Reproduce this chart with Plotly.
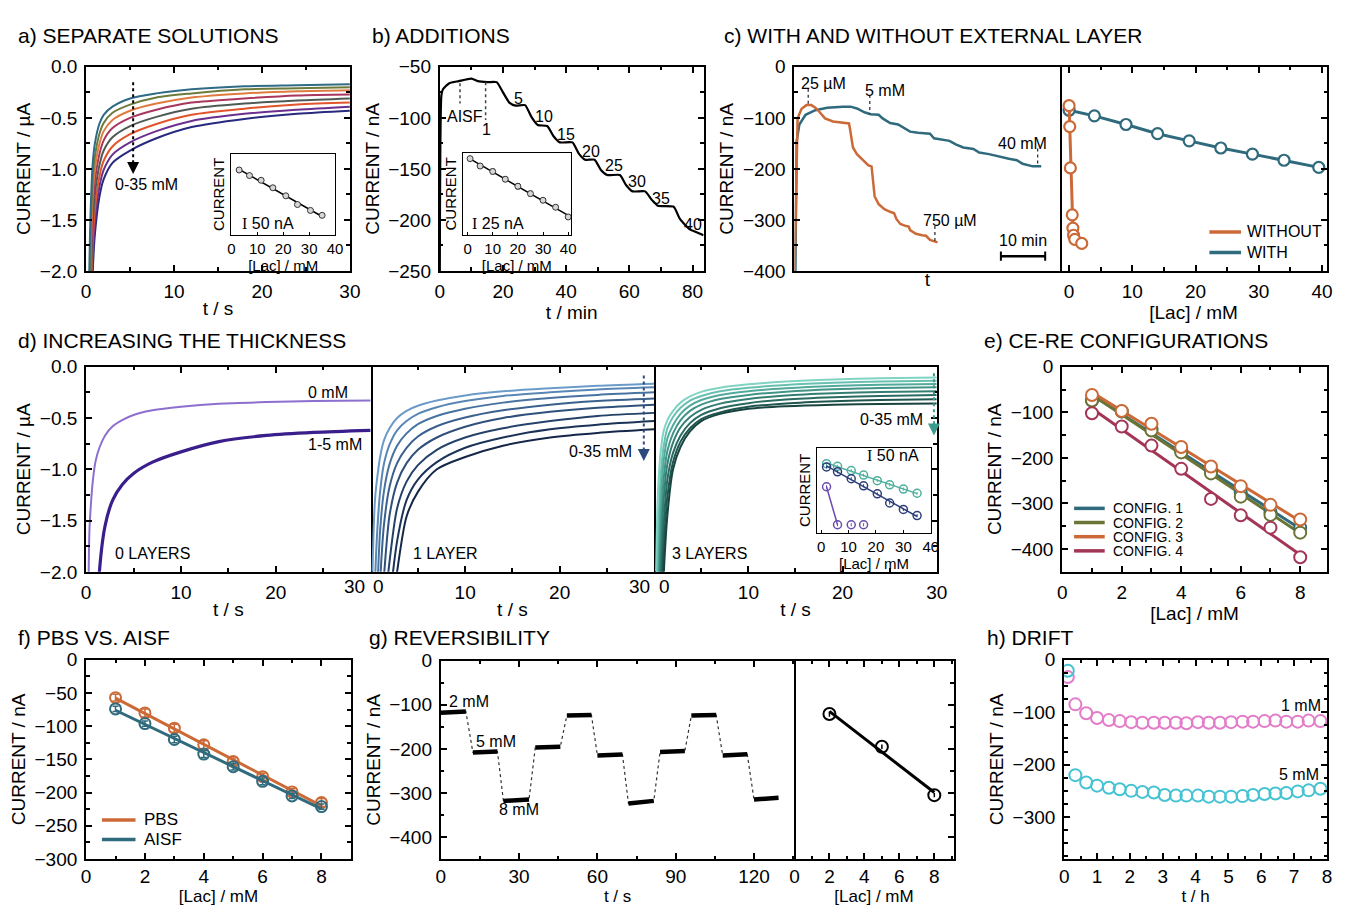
import numpy as np
import plotly.graph_objects as go

# ======================= DATA =======================
# a) separate solutions (current in uA vs t in s), 0..35 mM
A_T = [0.3, 0.5, 0.75, 1, 1.5, 2, 3, 5, 8, 12, 18, 24, 30]
A_I_00 = [-2.3, -1.45, -0.95, -0.75, -0.56, -0.47, -0.39, -0.31, -0.26, -0.22, -0.19, -0.18, -0.17]
A_I_05 = [-2.6, -1.7, -1.1, -0.88, -0.66, -0.55, -0.45, -0.37, -0.30, -0.26, -0.22, -0.21, -0.20]
A_I_10 = [-2.9, -1.9, -1.25, -1.0, -0.76, -0.63, -0.52, -0.43, -0.36, -0.30, -0.26, -0.24, -0.23]
A_I_15 = [-3.2, -2.1, -1.4, -1.12, -0.86, -0.72, -0.60, -0.50, -0.42, -0.35, -0.31, -0.28, -0.27]
A_I_20 = [-3.5, -2.3, -1.55, -1.25, -0.97, -0.82, -0.69, -0.58, -0.49, -0.41, -0.36, -0.33, -0.31]
A_I_25 = [-3.8, -2.5, -1.72, -1.4, -1.08, -0.92, -0.78, -0.66, -0.56, -0.47, -0.41, -0.37, -0.35]
A_I_30 = [-4.1, -2.7, -1.88, -1.52, -1.18, -1.01, -0.86, -0.74, -0.63, -0.53, -0.46, -0.42, -0.39]
A_I_35 = [-4.4, -2.9, -2.02, -1.64, -1.28, -1.10, -0.94, -0.82, -0.70, -0.59, -0.51, -0.46, -0.43]
A_COLORS = ["#2f6b86", "#6c7b3b", "#e07b40", "#a8365e", "#4f5a55", "#e2542b", "#6b2f8e", "#272a7e"]
A_IN_LAC = [3, 7, 11.5, 16, 21, 25.5, 30.5, 35]
A_IN_I = [-175, -207, -234, -277, -323, -373, -407, -435]

# b) additions (nA vs min)
B_T = [0, 0.5, 1, 3, 6, 10, 12, 15, 18, 20, 22, 24, 27, 29, 31, 34, 36, 38, 42, 44,
       46, 49, 51, 53, 57, 59, 61, 65, 67, 69, 74, 76, 79, 82, 83.5]
B_I = [-255, -78, -72, -66, -64, -61.5, -64, -65, -65, -75, -85, -88, -87.5, -99, -107, -108, -118, -124, -124, -135,
       -141, -141, -151, -156, -156, -166, -172, -172, -180, -186, -187, -199, -209, -213, -215]
B_STEP_LABELS = ["5", "10", "15", "20", "25", "30", "35", "40"]
B_STEP_T = [25, 33, 40, 48, 55, 62.5, 70, 80]
B_STEP_I = [-81, -99, -116, -133, -147, -162, -179, -204]
B_IN_LAC = [1, 5, 10, 15, 20, 25, 30, 35, 40]
B_IN_I = [-65, -84, -98, -118, -136, -155, -172, -190, -215]
B_IN_ERR = [3, 4, 6, 6, 7, 6, 4, 4, 5]

# c) with / without external layer
C_NAMES = ["WITHOUT", "WITH"]
C_T_WO = [0.04, 0.7, 1.6, 2.7, 3.8, 4.7, 5.6, 6.9, 8.7, 10.9, 12.3, 12.5, 13.2, 14.1, 15.4, 16.7, 17.4, 17.7, 18.1, 19.0,
          20.3, 21.6, 22.5, 23.0, 23.9, 25.2, 25.8, 26.1, 27.4, 28.8, 29.7, 30.6, 31.9, 32.3]
C_I_WO = [-400, -101, -82, -75, -75, -80, -88, -101, -107, -110, -111, -120, -158, -171, -183, -193, -195, -222, -254, -269,
          -279, -284, -287, -298, -308, -312, -313, -320, -327, -330, -331, -339, -344, -344]
C_T_WITH = [0.2, 0.5, 1.1, 2.5, 4.7, 7.4, 10.9, 12.7, 14.1, 15.8, 17.2, 19.0, 19.9, 21.6, 23.4, 24.8, 26.1, 27.9, 30.6, 31.5,
            33.7, 35.0, 36.4, 38.1, 40.4, 41.7, 43.9, 45.3, 46.6, 48.4, 50.2, 51.5, 53.8, 55.7]
C_I_WITH = [-400, -145, -113, -94, -85, -80, -78, -78, -81.5, -89, -93, -94, -101, -110, -113, -120, -127, -129, -131, -140,
            -144, -145, -152, -158, -161, -168, -171, -174, -177, -180, -183, -190, -195, -195]
C_LAC_WO = [0.0, 0.1, 0.2, 0.5, 0.6, 0.7, 0.9, 2.0]
C_RESP_WO = [-76, -117, -198, -290, -316, -330, -338, -346]
C_LAC_WITH = [0, 4, 9, 14, 19, 24, 29, 34, 39.5]
C_RESP_WITH = [-85, -96, -113, -131, -145, -159, -171, -183, -197]

# d) increasing the thickness (uA vs s)
D_T = [0.2, 0.35, 0.5, 0.7, 1, 1.4, 2, 2.8, 3.8, 5, 7, 10, 14, 19, 24, 30]
D0_I_0MM = [-2.6, -1.6, -1.35, -1.12, -0.92, -0.79, -0.67, -0.58, -0.52, -0.47, -0.425, -0.39, -0.36, -0.345, -0.335, -0.33]
D0_I_1TO5MM = [-6, -5, -4.5, -3.8, -2.9, -2.0, -1.55, -1.3, -1.15, -1.04, -0.93, -0.83, -0.73, -0.67, -0.64, -0.62]
D1_I_00 = [-2.0, -1.5, -1.25, -1.08, -0.88, -0.72, -0.6, -0.5, -0.43, -0.38, -0.33, -0.28, -0.24, -0.21, -0.185, -0.165]
D1_I_05 = [-3.2, -2.5, -2.0, -1.6, -1.22, -0.95, -0.76, -0.62, -0.53, -0.46, -0.395, -0.335, -0.285, -0.25, -0.222, -0.20]
D1_I_10 = [-4, -3.2, -2.6, -2.2, -1.6, -1.22, -0.95, -0.77, -0.65, -0.56, -0.48, -0.41, -0.35, -0.305, -0.275, -0.25]
D1_I_15 = [-5, -4, -3.3, -2.7, -2.1, -1.55, -1.17, -0.94, -0.79, -0.68, -0.58, -0.495, -0.425, -0.37, -0.335, -0.31]
D1_I_20 = [-5.5, -4.6, -3.9, -3.2, -2.5, -2.05, -1.45, -1.13, -0.94, -0.81, -0.69, -0.585, -0.5, -0.44, -0.4, -0.37]
D1_I_25 = [-6, -5, -4.3, -3.6, -3.0, -2.45, -1.9, -1.38, -1.12, -0.96, -0.81, -0.69, -0.6, -0.53, -0.48, -0.45]
D1_I_30 = [-6.5, -5.5, -4.7, -4.0, -3.4, -2.8, -2.3, -1.7, -1.3, -1.1, -0.93, -0.79, -0.69, -0.61, -0.565, -0.53]
D1_I_35 = [-7, -6, -5.1, -4.4, -3.8, -3.2, -2.6, -2.0, -1.46, -1.22, -1.0, -0.88, -0.77, -0.69, -0.645, -0.61]
D3_I_00 = [-2.0, -1.35, -1.05, -0.82, -0.63, -0.52, -0.43, -0.35, -0.29, -0.245, -0.205, -0.172, -0.145, -0.125, -0.113, -0.105]
D3_I_05 = [-2.6, -2.0, -1.45, -1.05, -0.78, -0.6, -0.49, -0.40, -0.33, -0.285, -0.24, -0.205, -0.178, -0.157, -0.145, -0.137]
D3_I_10 = [-3.1, -2.4, -1.85, -1.3, -0.92, -0.7, -0.57, -0.46, -0.38, -0.325, -0.275, -0.238, -0.21, -0.188, -0.176, -0.168]
D3_I_15 = [-3.5, -2.8, -2.2, -1.6, -1.1, -0.82, -0.65, -0.52, -0.43, -0.37, -0.315, -0.275, -0.243, -0.22, -0.208, -0.2]
D3_I_20 = [-4, -3.2, -2.5, -1.9, -1.3, -0.95, -0.74, -0.59, -0.49, -0.42, -0.36, -0.315, -0.28, -0.259, -0.247, -0.238]
D3_I_25 = [-4.5, -3.6, -2.9, -2.2, -1.55, -1.1, -0.84, -0.67, -0.55, -0.47, -0.405, -0.355, -0.32, -0.298, -0.285, -0.276]
D3_I_30 = [-5, -4, -3.2, -2.5, -1.8, -1.27, -0.93, -0.73, -0.6, -0.51, -0.445, -0.39, -0.358, -0.337, -0.325, -0.317]
D3_I_35 = [-5.5, -4.5, -3.6, -2.8, -2.05, -1.45, -1.0, -0.78, -0.63, -0.53, -0.46, -0.41, -0.385, -0.37, -0.363, -0.359]
D0_COLORS = ["#8c6fcf", "#3a1e8c"]
D1_COLORS = ["#6b9bc9", "#5886b5", "#4873a1", "#3a618e", "#2e507b", "#244169", "#1c3358", "#152748"]
D3_COLORS = ["#80d4c4", "#68c0b1", "#52aa9c", "#419487", "#337e73", "#296a61", "#205650", "#18443f"]
D_IN_LAC = [2, 6, 11, 15.5, 20.5, 25, 30, 35]
D_IN_3L = [-143, -157, -179, -203, -232, -254, -276, -298]
D_IN_1L = [-160, -186, -222, -259, -301, -349, -383, -415]
D_IN_0L_LAC = [2, 6, 11, 15.5]
D_IN_0L = [-264, -463, -463, -463]

# e) CE-RE configurations
E_NAMES = ["CONFIG. 1", "CONFIG. 2", "CONFIG. 3", "CONFIG. 4"]
E_LAC = [1, 2, 3, 4, 5, 6, 7, 8]
E_C1 = [-74, -98, -136, -184, -229, -276, -319, -353]
E_C2 = [-74, -98, -140, -188, -234, -285, -325, -364]
E_C3 = [-62, -97, -125, -176, -219, -262, -303, -335]
E_C4 = [-102, -131, -173, -224, -290, -326, -353, -418]
E_COLORS = ["#2f6a7d", "#6b7435", "#cc6a37", "#a33656"]

# f) PBS vs AISF
F_NAMES = ["PBS", "AISF"]
F_LAC = [1, 2, 3, 4, 5, 6, 7, 8]
F_PBS = [-57, -80, -103, -128, -153, -176, -199, -215]
F_PBS_ERR = [5, 6, 6, 6, 5, 5, 5, 6]
F_AISF = [-74, -96, -120, -142, -161, -183, -205, -221]
F_AISF_ERR = [4, 4, 5, 5, 5, 5, 4, 4]

# g) reversibility
G_T_START = [0, 12.3, 24, 36.2, 48.3, 60, 71.9, 84, 96, 108, 120]
G_T_END = [9.6, 21.7, 33.8, 45.8, 57.7, 69.6, 81.6, 93.5, 105.5, 117.4, 129.4]
G_I_START = [-118, -208, -318, -197, -124, -215, -324, -207, -124, -215, -315]
G_I_END = [-115, -206, -315, -195, -123, -213, -318, -205, -123, -212, -311]
G_LAC = [2, 5, 8]
G_RESP = [-121, -195, -305]
G_ERR = [6, 5, 5]

# h) drift
H_T = [0.11, 0.34, 0.67, 1.0, 1.36, 1.69, 2.04, 2.38, 2.73, 3.06, 3.40, 3.72, 4.07, 4.40, 4.74, 5.08,
       5.43, 5.75, 6.10, 6.43, 6.76, 7.11, 7.44, 7.80]
H_1MM = [-33, -85, -102, -111, -115, -117, -119, -120, -120, -120, -120, -121, -119, -120, -120, -119,
         -118, -118, -117, -116, -118, -118, -116, -117]
H_5MM = [-21, -220, -234, -240, -244, -247, -250, -252, -253, -258, -259, -259, -259, -261, -261, -261,
         -260, -258, -256, -255, -254, -251, -249, -246]

ORANGE = "#cc6a37"
TEAL = "#2f6a7d"
PINK = "#e37cc9"
CYAN = "#45c3d2"

# ======================= FIGURE =======================
# The page body keeps its default 8px margin, so the figure is 16px smaller
# than the window and every layout position below is given in window pixels.
OX, OY = 8, 8
FW, FH = 1330, 906
FONT = "Liberation Sans, Arial, Helvetica, sans-serif"
TICK = 19
AXT = 19

fig = go.Figure()
layout_axes = {}
shapes = []
annots = []


def PX(X):
    return (X - OX) / FW


def PY(Y):
    return 1 - (Y - OY) / FH


def ax_ids(k):
    return ("x" if k == 1 else f"x{k}", "y" if k == 1 else f"y{k}")


def mn(d):
    return dict(ticks="inside", ticklen=3.5, tickwidth=1.5, tickcolor="black", dtick=d, showgrid=False)


def ttl(text, size=AXT, standoff=4):
    return dict(text=text, font=dict(family=FONT, size=size, color="black"), standoff=standoff)


def make_axes(k, box, xr, yr, xkw, ykw):
    x0, y0, x1, y1 = box
    xid, yid = ax_ids(k)
    base = dict(showgrid=False, zeroline=False, showline=True, linecolor="black",
                linewidth=2, ticks="inside", ticklen=6, tickwidth=2, tickcolor="black",
                mirror="ticks", tickfont=dict(family=FONT, size=TICK, color="black"))
    xa = dict(base)
    xa.update(domain=[max(0, PX(x0)), min(1, PX(x1))], range=xr, anchor=yid, ticklabelstandoff=2)
    ya = dict(base)
    ya.update(domain=[max(0, PY(y1)), min(1, PY(y0))], range=yr, anchor=xid, ticklabelstandoff=3)
    xa.update(xkw)
    ya.update(ykw)
    layout_axes["xaxis" if k == 1 else f"xaxis{k}"] = xa
    layout_axes["yaxis" if k == 1 else f"yaxis{k}"] = ya
    return xid, yid


# bottom row: x labels and titles must fit above the lower page margin
BOTTOM_X = dict(ticklabelstandoff=-1)


def bttl(text):
    return ttl(text, 17, 0)


INSET_X = dict(linewidth=1.2, tickwidth=1.2, ticklen=3, mirror=True, ticklabelstandoff=0,
               tickfont=dict(family=FONT, size=15, color="black"))
INSET_Y = dict(linewidth=1.2, ticks="", showticklabels=False, mirror=True)


def txt(x, y, text, xref, yref, size=16, xanchor="center", yanchor="middle", color="black", pad=1):
    annots.append(dict(x=x, y=y, xref=xref, yref=yref, text=text, showarrow=False,
                       xanchor=xanchor, yanchor=yanchor, borderpad=pad,
                       font=dict(family=FONT, size=size, color=color)))


def vdot(x, y0, y1, xref, yref, color="black", width=1.5):
    shapes.append(dict(type="line", x0=x, x1=x, y0=y0, y1=y1, xref=xref, yref=yref,
                       line=dict(color=color, width=width, dash="dot")))


def arrow_tip(x, y_from, y_tip, xref, yref, color):
    annots.append(dict(x=x, y=y_tip, ax=x, ay=y_from, xref=xref, yref=yref, axref=xref, ayref=yref,
                       showarrow=True, arrowhead=2, arrowsize=1.2, arrowwidth=2, arrowcolor=color, text=""))


def legend_rows(x0, x1, xt, ys, names, colors, size):
    for yy, name, col in zip(ys, names, colors):
        shapes.append(dict(type="line", xref="paper", yref="paper", x0=PX(x0), x1=PX(x1),
                           y0=PY(yy), y1=PY(yy), line=dict(color=col, width=3.5)))
        txt(PX(xt), PY(yy), name, "paper", "paper", size=size, xanchor="left", pad=0)


def ptxt(xp, yp, text, size=TICK, xanchor="center"):
    txt(PX(xp), PY(yp), text, "paper", "paper", size=size, xanchor=xanchor, pad=0)


def title(xp, yp, text):
    txt(PX(xp), PY(yp), text, "paper", "paper", size=21, xanchor="left", pad=0)


def line_tr(x, y, xa, ya, color, width=2, shape="linear", smoothing=None, dash=None):
    ln = dict(color=color, width=width, shape=shape)
    if smoothing is not None:
        ln["smoothing"] = smoothing
    if dash:
        ln["dash"] = dash
    return go.Scatter(x=x, y=y, mode="lines", line=ln, xaxis=xa, yaxis=ya,
                      showlegend=False, hoverinfo="skip")


def fit_line(x, y):
    coef = np.polyfit(x, y, 1)
    return list(np.polyval(coef, x))


# ---------------- a) ----------------
xa, ya = make_axes(1, (82, 58, 349, 267), [0, 30], [-2, 0],
                   dict(dtick=10, tick0=0, minor=mn(5), title=ttl("t / s", AXT, 1)),
                   dict(dtick=0.5, tick0=0, tickformat=".1f", minor=mn(0.25), title=ttl("CURRENT / µA")))
A_CURVES = [A_I_00, A_I_05, A_I_10, A_I_15, A_I_20, A_I_25, A_I_30, A_I_35]
for vals, col in zip(A_CURVES[::-1], A_COLORS[::-1]):
    fig.add_trace(line_tr(A_T, vals, xa, ya, col, 2, "spline", 0.8))
vdot(5.35, -0.15, -0.97, xa, ya, "black", 2)
arrow_tip(5.35, -0.95, -1.05, xa, ya, "black")
txt(6.9, -1.15, "0-35 mM", xa, ya, 16)

xi, yi = make_axes(2, (229, 147, 334, 230), [0, 40], [-547, -82],
                   dict(INSET_X, dtick=10, tick0=0, title=ttl("[Lac] / mM", 15, 0)),
                   dict(INSET_Y, title=ttl("CURRENT", 15, 1)))
fig.add_trace(line_tr(A_IN_LAC, fit_line(A_IN_LAC, A_IN_I), xi, yi, "black", 1.5))
fig.add_trace(go.Scatter(x=A_IN_LAC, y=A_IN_I, mode="markers", xaxis=xi, yaxis=yi, showlegend=False,
                         marker=dict(symbol="circle", size=6, color="#d6d6d6", line=dict(color="#333", width=1))))
txt(3.5, -480, "<span style='font-family:Liberation Serif'>I</span> 50 nA", xi, yi, 16, xanchor="left")

# ---------------- b) ----------------
xb, yb = make_axes(3, (440, 58, 707, 267), [0, 83.5], [-250, -50],
                   dict(dtick=20, tick0=0, minor=mn(10), title=ttl("t / min", AXT, 1)),
                   dict(dtick=50, tick0=0, minor=mn(25), title=ttl("CURRENT / nA")))
fig.add_trace(line_tr(B_T, B_I, xb, yb, "black", 2.2, "spline", 0.5))
for lab, tt, ii in zip(B_STEP_LABELS, B_STEP_T, B_STEP_I):
    txt(tt, ii, lab, xb, yb, 16)
vdot(6.4, -66, -86, xb, yb, "#444", 1.5)
txt(8.0, -99, "AISF", xb, yb, 16)
vdot(14.5, -65, -102, xb, yb, "#444", 1.5)
txt(14.8, -111, "1", xb, yb, 16)

xbi, ybi = make_axes(4, (463, 146, 573, 230), [-2, 41.2], [-261, -50],
                     dict(INSET_X, dtick=10, tick0=0, title=ttl("[Lac] / mM", 15, 0)),
                     dict(INSET_Y, title=ttl("CURRENT", 15, 1)))
fig.add_trace(line_tr(B_IN_LAC, fit_line(B_IN_LAC, B_IN_I), xbi, ybi, "black", 1.5))
fig.add_trace(go.Scatter(x=B_IN_LAC, y=B_IN_I, mode="markers", xaxis=xbi, yaxis=ybi, showlegend=False,
                         error_y=dict(type="data", array=B_IN_ERR, color="#333", thickness=1, width=2),
                         marker=dict(symbol="circle", size=6, color="#d6d6d6", line=dict(color="#333", width=1))))
txt(1, -231, "<span style='font-family:Liberation Serif'>I</span> 25 nA", xbi, ybi, 16, xanchor="left")

# ---------------- c) ----------------
xc, yc = make_axes(5, (799, 58, 1068, 267), [0, 60], [-400, 0],
                   dict(ticks="", showticklabels=False, mirror=True, title=ttl("t", AXT, 1)),
                   dict(dtick=100, tick0=0, minor=mn(50), mirror=True, title=ttl("CURRENT / nA")))
fig.add_trace(line_tr(C_T_WITH, C_I_WITH, xc, yc, TEAL, 2.5))
fig.add_trace(line_tr(C_T_WO, C_I_WO, xc, yc, ORANGE, 2.5))
vdot(3.1, -43, -75, xc, yc, "#333", 1.3)
txt(6.5, -32, "25 µM", xc, yc, 16)
vdot(17.0, -55, -93, xc, yc, "#333", 1.3)
txt(20.5, -46, "5 mM", xc, yc, 16)
vdot(54.9, -160, -193, xc, yc, "#333", 1.3)
txt(51.5, -150, "40 mM", xc, yc, 16)
vdot(31.7, -312, -342, xc, yc, "#333", 1.3)
txt(35.0, -301, "750 µM", xc, yc, 16)
shapes.append(dict(type="line", x0=46.6, x1=56.6, y0=-371, y1=-371, xref=xc, yref=yc, line=dict(color="black", width=2.5)))
shapes.append(dict(type="line", x0=46.6, x1=46.6, y0=-362, y1=-380, xref=xc, yref=yc, line=dict(color="black", width=2)))
shapes.append(dict(type="line", x0=56.6, x1=56.6, y0=-362, y1=-380, xref=xc, yref=yc, line=dict(color="black", width=2)))
txt(51.6, -340, "10 min", xc, yc, 16)

xc2, yc2 = make_axes(6, (1068, 58, 1338, 267), [-1.4, 40.8], [-400, 0],
                     dict(dtick=10, tick0=0, minor=mn(5), title=ttl("[Lac] / mM", AXT, 1)),
                     dict(dtick=100, tick0=0, minor=mn(50), side="right", showticklabels=False, mirror=False))
fig.add_trace(go.Scatter(x=C_LAC_WITH, y=C_RESP_WITH, mode="lines+markers", xaxis=xc2, yaxis=yc2, showlegend=False,
                         line=dict(color=TEAL, width=3),
                         marker=dict(symbol="circle", size=11, color="white", line=dict(color=TEAL, width=2.2))))
fig.add_trace(go.Scatter(x=C_LAC_WO, y=C_RESP_WO, mode="lines+markers", xaxis=xc2, yaxis=yc2, showlegend=False,
                         line=dict(color=ORANGE, width=3),
                         marker=dict(symbol="circle", size=11, color="white", line=dict(color=ORANGE, width=2.2))))
legend_rows(1219, 1251, 1256, [227, 248], C_NAMES, [ORANGE, TEAL], 16)

# ---------------- d) ----------------
D_TICKV = [0, 10, 20, 30]
xd1, yd1 = make_axes(7, (82, 365, 370, 575), [0, 30], [-2, 0],
                     dict(tickvals=D_TICKV, ticktext=["0", "10", "20", ""], minor=mn(5), title=ttl("t / s", AXT, 1)),
                     dict(dtick=0.5, tick0=0, tickformat=".1f", minor=mn(0.25), mirror=True, title=ttl("CURRENT / µA")))
xd2, yd2 = make_axes(8, (370, 365, 657, 575), [0, 30], [-2, 0],
                     dict(tickvals=D_TICKV, ticktext=["", "10", "20", ""], minor=mn(5), title=ttl("t / s", AXT, 1)),
                     dict(ticks="", showticklabels=False, side="right", mirror=False))
xd3, yd3 = make_axes(9, (657, 365, 943, 575), [0, 30], [-2, 0],
                     dict(tickvals=D_TICKV, ticktext=["", "10", "20", "30"], minor=mn(5), title=ttl("t / s", AXT, 1)),
                     dict(dtick=0.5, tick0=0, minor=mn(0.25), side="right", showticklabels=False, mirror=False))
# boundary tick labels between the joined panels
ptxt(354, 590, "30")
ptxt(378, 590, "0")
ptxt(642, 590, "30")
ptxt(667, 590, "0")

fig.add_trace(line_tr(D_T, D0_I_0MM, xd1, yd1, D0_COLORS[0], 2, "spline", 0.8))
fig.add_trace(line_tr(D_T, D0_I_1TO5MM, xd1, yd1, D0_COLORS[1], 3.2, "spline", 0.8))
txt(25.5, -0.25, "0 mM", xd1, yd1, 16)
txt(26.2, -0.76, "1-5 mM", xd1, yd1, 16)
txt(2.8, -1.82, "0 LAYERS", xd1, yd1, 16, xanchor="left")

D1_CURVES = [D1_I_00, D1_I_05, D1_I_10, D1_I_15, D1_I_20, D1_I_25, D1_I_30, D1_I_35]
for vals, col in zip(D1_CURVES, D1_COLORS):
    fig.add_trace(line_tr(D_T, vals, xd2, yd2, col, 2, "spline", 0.8))
vdot(28.9, -0.085, -0.86, xd2, yd2, "#2c4a7e", 2)
arrow_tip(28.9, -0.84, -0.92, xd2, yd2, "#2c4a7e")
txt(24.3, -0.83, "0-35 mM", xd2, yd2, 16)
txt(4.3, -1.82, "1 LAYER", xd2, yd2, 16, xanchor="left")

D3_CURVES = [D3_I_00, D3_I_05, D3_I_10, D3_I_15, D3_I_20, D3_I_25, D3_I_30, D3_I_35]
for vals, col in zip(D3_CURVES, D3_COLORS):
    fig.add_trace(line_tr(D_T, vals, xd3, yd3, col, 2, "spline", 0.8))
vdot(29.7, -0.064, -0.6, xd3, yd3, "#3a9a8c", 2)
arrow_tip(29.7, -0.59, -0.67, xd3, yd3, "#3a9a8c")
txt(25.2, -0.51, "0-35 mM", xd3, yd3, 16)
txt(1.7, -1.82, "3 LAYERS", xd3, yd3, 16, xanchor="left")

xdi, ydi = make_axes(10, (822, 448, 937, 535), [-1.4, 40], [-505, -60],
                     dict(INSET_X, dtick=10, tick0=0, title=ttl("[Lac] / mM", 15, 0)),
                     dict(INSET_Y, title=ttl("CURRENT", 15, 1)))
for xs, ys, col, fit in [(D_IN_LAC, D_IN_3L, "#4fb0a0", True), (D_IN_LAC, D_IN_1L, "#2c3f7a", True),
                         (D_IN_0L_LAC, D_IN_0L, "#6a4bb0", False)]:
    ly = fit_line(xs, ys) if fit else ys[:2]
    lx = xs if fit else xs[:2]
    fig.add_trace(line_tr(lx, ly, xdi, ydi, col, 1.5))
    fig.add_trace(go.Scatter(x=xs, y=ys, mode="markers", xaxis=xdi, yaxis=ydi, showlegend=False,
                             error_y=dict(type="data", array=[8] * len(xs), color=col, thickness=1, width=0),
                             marker=dict(symbol="circle-open", size=8, color=col, line=dict(color=col, width=1.5))))
txt(16, -100, "<span style='font-family:Liberation Serif'>I</span> 50 nA", xdi, ydi, 16, xanchor="left")

# ---------------- e) ----------------
xe, ye = make_axes(11, (1070, 365, 1338, 575), [0, 8.9], [-450, 0],
                   dict(dtick=2, tick0=0, minor=mn(1), title=ttl("[Lac] / mM", AXT, 1)),
                   dict(dtick=100, tick0=0, minor=mn(50), title=ttl("CURRENT / nA")))
for ys, col in zip([E_C1, E_C2, E_C3, E_C4], E_COLORS):
    fig.add_trace(line_tr(E_LAC, fit_line(E_LAC, ys), xe, ye, col, 3))
for ys, col in zip([E_C1, E_C2, E_C3, E_C4], E_COLORS):
    fig.add_trace(go.Scatter(x=E_LAC, y=ys, mode="markers", xaxis=xe, yaxis=ye, showlegend=False,
                             marker=dict(symbol="circle", size=12, color="white", line=dict(color=col, width=2))))
legend_rows(1082, 1113, 1120, [510, 524.5, 539, 553.5], E_NAMES, E_COLORS, 14)

# ---------------- f) ----------------
xf, yf = make_axes(12, (82, 665, 350, 869), [0, 9], [-300, 0],
                   dict(BOTTOM_X, dtick=2, tick0=0, minor=mn(1), title=bttl("[Lac] / mM")),
                   dict(dtick=50, tick0=0, minor=mn(25), title=ttl("CURRENT / nA")))
for ys, err, col in [(F_PBS, F_PBS_ERR, ORANGE), (F_AISF, F_AISF_ERR, TEAL)]:
    fig.add_trace(line_tr(F_LAC, fit_line(F_LAC, ys), xf, yf, col, 3))
    fig.add_trace(go.Scatter(x=F_LAC, y=ys, mode="markers", xaxis=xf, yaxis=yf, showlegend=False,
                             error_y=dict(type="data", array=err, color=col, thickness=1.5, width=3),
                             marker=dict(symbol="circle-open", size=11, color=col, line=dict(color=col, width=2))))
legend_rows(98, 132, 140, [829, 849], F_NAMES, [ORANGE, TEAL], 17)

# ---------------- g) ----------------
xg, yg = make_axes(13, (441, 666, 799, 869), [0, 135.5], [-450, 0],
                   dict(BOTTOM_X, dtick=30, tick0=0, minor=mn(15), title=bttl("t / s")),
                   dict(dtick=100, tick0=0, minor=mn(50), mirror=True, title=ttl("CURRENT / nA")))
dot_x, dot_y, seg_x, seg_y = [], [], [], []
for s, e, i0, i1 in zip(G_T_START, G_T_END, G_I_START, G_I_END):
    dot_x += [s, e]
    dot_y += [i0, i1]
    seg_x += [s, e, None]
    seg_y += [i0, i1, None]
fig.add_trace(line_tr(dot_x, dot_y, xg, yg, "#333", 1.2, dash="dot"))
fig.add_trace(go.Scatter(x=seg_x, y=seg_y, mode="lines", xaxis=xg, yaxis=yg, showlegend=False,
                         line=dict(color="black", width=4.5), connectgaps=False, hoverinfo="skip"))
txt(10.8, -93, "2 mM", xg, yg, 16)
txt(21, -184, "5 mM", xg, yg, 16)
txt(29.9, -338, "8 mM", xg, yg, 16)

xg2, yg2 = make_axes(14, (799, 666, 960, 869), [0, 9.1], [-450, 0],
                     dict(BOTTOM_X, dtick=2, tick0=0, minor=mn(1), title=bttl("[Lac] / mM")),
                     dict(dtick=100, tick0=0, minor=mn(50), side="right", showticklabels=False, mirror=False))
fig.add_trace(line_tr(G_LAC, fit_line(G_LAC, G_RESP), xg2, yg2, "black", 3))
fig.add_trace(go.Scatter(x=G_LAC, y=G_RESP, mode="markers", xaxis=xg2, yaxis=yg2, showlegend=False,
                         error_y=dict(type="data", array=G_ERR, color="black", thickness=1.5, width=0),
                         marker=dict(symbol="circle-open", size=12, color="black", line=dict(color="black", width=2))))

# ---------------- h) ----------------
xh, yh = make_axes(15, (1072, 665, 1338, 869), [0, 8], [-380, 0],
                   dict(BOTTOM_X, dtick=1, tick0=0, minor=mn(0.5), title=bttl("t / h")),
                   dict(dtick=100, tick0=0, minor=mn(25), title=ttl("CURRENT / nA")))
fig.add_trace(go.Scatter(x=H_T, y=H_1MM, mode="markers", xaxis=xh, yaxis=yh, showlegend=False,
                         marker=dict(symbol="circle-open", size=12, color=PINK, line=dict(color=PINK, width=2))))
fig.add_trace(go.Scatter(x=H_T, y=H_5MM, mode="markers", xaxis=xh, yaxis=yh, showlegend=False,
                         marker=dict(symbol="circle-open", size=12, color=CYAN, line=dict(color=CYAN, width=2))))
txt(7.88, -87, "1 mM", xh, yh, 16, xanchor="right")
txt(7.82, -218, "5 mM", xh, yh, 16, xanchor="right")

# ---------------- titles ----------------
title(12, 26, "a) SEPARATE SOLUTIONS")
title(370, 26, "b) ADDITIONS")
title(727, 26, "c) WITH AND WITHOUT EXTERNAL LAYER")
title(12, 338, "d) INCREASING THE THICKNESS")
title(990, 338, "e) CE-RE CONFIGURATIONS")
title(12, 642, "f) PBS VS. AISF")
title(367, 642, "g) REVERSIBILITY")
title(993, 642, "h) DRIFT")

fig.update_layout(
    width=FW, height=FH, margin=dict(l=0, r=0, t=0, b=0),
    paper_bgcolor="white", plot_bgcolor="white",
    font=dict(family=FONT, size=16, color="black"),
    showlegend=False, shapes=shapes, annotations=annots, **layout_axes)

fig.write_html("out.html", config={"displayModeBar": False})
